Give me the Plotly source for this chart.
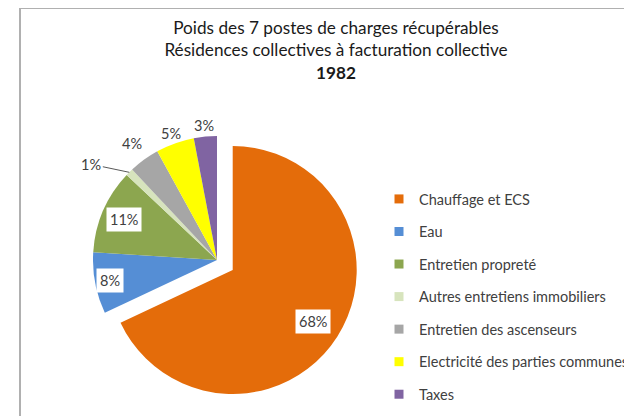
import math
import plotly.graph_objects as go

# ---- data ----
categories = [
    "Chauffage et ECS",
    "Eau",
    "Entretien propreté",
    "Autres entretiens immobiliers",
    "Entretien des ascenseurs",
    "Electricité des parties communes",
    "Taxes",
]
values = [68, 8, 11, 1, 4, 5, 3]
title_lines = [
    "Poids des 7 postes de charges récupérables",
    "Résidences collectives à facturation collective",
    "<b>1982</b>",
]

# ---- styles ----
colors = ["#E46C0A", "#558ED5", "#8CA64F", "#D7E4BD", "#A6A6A6", "#FFFF00", "#8064A2"]
pulls = [0.15, 0, 0, 0, 0, 0, 0]
label_radius = [0.77, 0.875, 0.82, 1.0, 1.16, 1.085, 1.09]   # fraction of radius
label_boxed = [True, True, True, False, False, False, False]
label_leader = [None, None, None, (-38, -8), None, None, None]  # pixel offset of text

FONT = "Lato, 'Open Sans', sans-serif"
TXT = "#404040"
FIG_W, FIG_H = 632, 416
OFF = 8                              # page offset of the figure inside the browser page
ML, MT, MR, MB = 20 - OFF, 0, 0, 0
PW, PH = FIG_W - ML - MR, FIG_H - MT - MB
CX, CY, R = 217 - OFF, 260 - OFF, 124          # pie centre / radius (pixels)
half = R * (1 + max(pulls))


def px_to_paper(px, py):
    return (px - ML) / PW, 1 - (py - MT) / PH


dx0, dy1 = px_to_paper(CX - half, CY - half)
dx1, dy0 = px_to_paper(CX + half, CY + half)

fig = go.Figure()

fig.add_trace(go.Pie(
    labels=categories,
    values=values,
    marker=dict(colors=colors, line=dict(color="white", width=0)),
    pull=pulls,
    sort=False,
    direction="clockwise",
    rotation=0,
    textinfo="none",
    domain=dict(x=[dx0, dx1], y=[dy0, dy1]),
    showlegend=False,
    hoverinfo="label+percent",
))

# percentage labels placed at each slice's mid-angle
total = sum(values)
annotations = []
cum = 0
for v, pl, fr, boxed, lead in zip(values, pulls, label_radius, label_boxed, label_leader):
    theta = math.radians(360 * (cum + v / 2) / total)
    cum += v
    sx, sy = math.sin(theta), -math.cos(theta)
    ccx, ccy = CX + pl * R * sx, CY + pl * R * sy
    px, py = ccx + fr * R * sx, ccy + fr * R * sy
    xp, yp = px_to_paper(px, py)
    pct = f"{round(100 * v / total)}%"
    ann = dict(
        x=xp, y=yp, xref="paper", yref="paper", text=pct,
        xanchor="center", yanchor="middle",
        font=dict(family=FONT, size=14.5, color=TXT),
        showarrow=False,
    )
    if boxed:
        ann.update(bgcolor="white", borderpad=3)
    if lead is not None:
        ann.update(showarrow=True, arrowhead=0, arrowwidth=1, arrowcolor="#595959",
                   ax=lead[0], ay=lead[1], standoff=0)
    annotations.append(ann)

# legend entries (one per category, same colours as the slices)
for name, col in zip(categories, colors):
    fig.add_trace(go.Scatter(
        x=[None], y=[None], mode="markers", name=name, legendgroup=name,
        marker=dict(symbol="square", size=9, color=col),
        showlegend=True, hoverinfo="skip",
    ))

fig.update_layout(
    width=FIG_W, height=FIG_H,
    margin=dict(l=ML, r=MR, t=MT, b=MB, autoexpand=False),
    paper_bgcolor="white", plot_bgcolor="white",
    font=dict(family=FONT, color=TXT),
    title=dict(
        text="<br>".join(title_lines),
        x=(336 - OFF) / FIG_W, xref="container", xanchor="center",
        y=1 - 26 / FIG_H, yref="container", yanchor="top",
        font=dict(family=FONT, size=17.2, color="#1a1a1a"),
    ),
    xaxis=dict(visible=False),
    yaxis=dict(visible=False),
    legend=dict(
        x=(371 - ML) / PW, xanchor="left",
        y=1 - (175 - MT) / PH, yanchor="top",
        traceorder="grouped", tracegroupgap=10.7,
        font=dict(family=FONT, size=14.5, color=TXT),
        bgcolor="rgba(0,0,0,0)", borderwidth=0,
    ),
    annotations=annotations,
    shapes=[dict(
        type="rect", xref="paper", yref="paper",
        x0=0, y0=-0.2, x1=1.2, y1=1,
        line=dict(color="#B0B0B0", width=2),
        fillcolor="rgba(0,0,0,0)", layer="below",
    )],
)

fig.write_html("out.html")
